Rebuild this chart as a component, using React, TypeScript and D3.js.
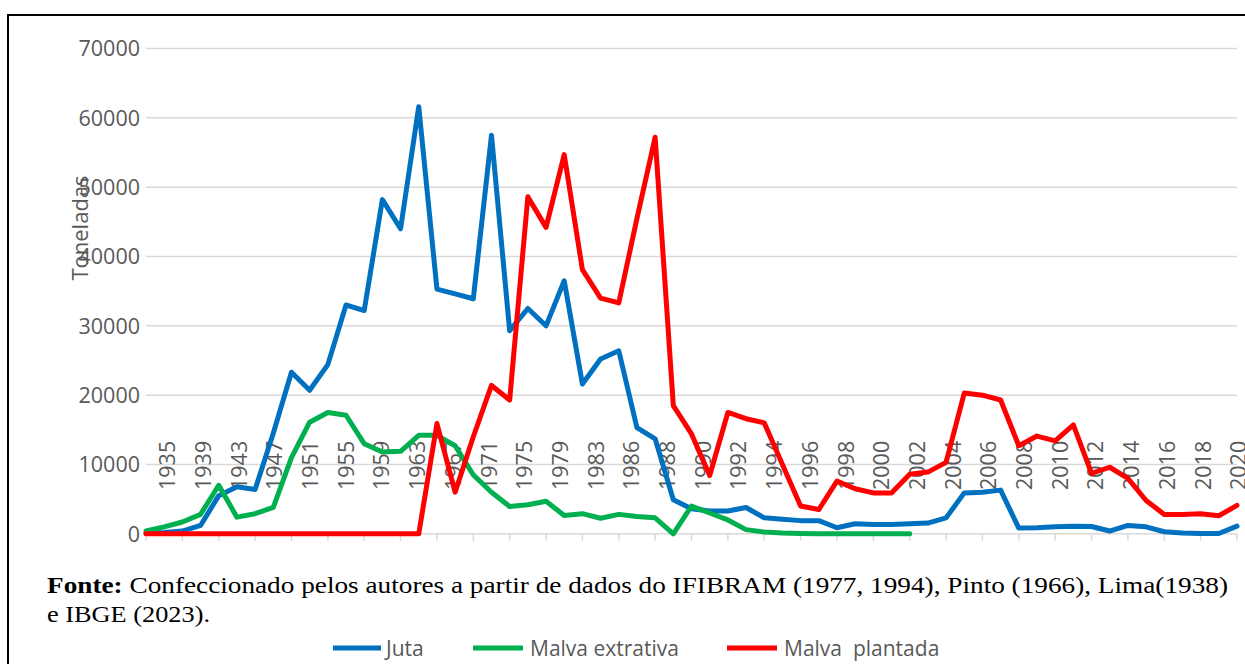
import React from 'react';
import * as d3 from 'd3';

// categories (biennial until 1983, then annual)
const years = [
  1935, 1937, 1939, 1941, 1943, 1945, 1947, 1949, 1951, 1953, 1955, 1957, 1959,
  1961, 1963, 1965, 1967, 1969, 1971, 1973, 1975, 1977, 1979, 1981, 1983, 1985,
  1986, 1987, 1988, 1989, 1990, 1991, 1992, 1993, 1994, 1995, 1996, 1997, 1998,
  1999, 2000, 2001, 2002, 2003, 2004, 2005, 2006, 2007, 2008, 2009, 2010, 2011,
  2012, 2013, 2014, 2015, 2016, 2017, 2018, 2019, 2020,
];

const tickLabels = [
  '1935', '1939', '1943', '1947', '1951', '1955', '1959', '1963', '1967', '1971',
  '1975', '1979', '1983', '1986', '1988', '1990', '1992', '1994', '1996', '1998',
  '2000', '2002', '2004', '2006', '2008', '2010', '2012', '2014', '2016', '2018', '2020',
];

const juta = [
  100, 200, 400, 1200, 5500, 6800, 6400, 14500, 23300, 20700, 24400, 33000, 32200,
  48200, 44000, 61600, 35300, 34600, 33900, 57500, 29300, 32500, 30000, 36500, 21600,
  25200, 26400, 15300, 13700, 4900, 3600, 3300, 3300, 3800, 2300, 2100, 1900, 1900,
  870, 1450, 1350, 1350, 1450, 1550, 2300, 5900, 6000, 6300, 820, 870, 1000, 1100,
  1060, 400, 1200, 1000, 300, 100, 50, 50, 1100,
];

const malvaExtrativa: (number | null)[] = [
  400, 1000, 1700, 2800, 7000, 2400, 2900, 3800, 11000, 16100, 17500, 17100, 13000,
  11800, 11900, 14200, 14200, 12700, 8500, 6000, 3950, 4200, 4700, 2650, 2900, 2250,
  2800, 2500, 2300, 0, 4000, 3000, 2000, 600, 250, 100, 50, 0, 0, 0, 0, 0, 0,
  null, null, null, null, null, null, null, null, null, null, null, null, null, null,
  null, null, null, null, null,
];

const malvaPlantada = [
  0, 0, 0, 0, 0, 0, 0, 0, 0, 0, 0, 0, 0, 0, 0, 0, 15900, 6000, 14000, 21400, 19300,
  48600, 44200, 54700, 38100, 34000, 33300, 45500, 57200, 18500, 14400, 8400, 17500,
  16600, 16000, 10000, 4000, 3500, 7600, 6500, 5900, 5900, 8600, 8900, 10300, 20300,
  20000, 19300, 12700, 14100, 13400, 15700, 8700, 9600, 8000, 4800, 2800, 2800, 2900,
  2600, 4100,
];

const yTicks = [0, 10000, 20000, 30000, 40000, 50000, 60000, 70000];

const series = [
  { name: 'Juta', values: juta, color: '#0070C0' },
  { name: 'Malva extrativa', values: malvaExtrativa, color: '#00B050' },
  { name: 'Malva  plantada', values: malvaPlantada, color: '#FF0000' },
];

const W = 1245;
const H = 664;
const FONT = "'Open Sans', sans-serif";
const SERIF = "'Liberation Serif', serif";
const GREY = '#595959';

export default function App() {
  const x = d3.scalePoint<string>().domain(years.map(String)).range([146, 1237]);
  const xLab = d3.scalePoint<string>().domain(tickLabels).range([167.5, 1238.5]);
  const y = d3.scaleLinear().domain([0, 70000]).range([533.8, 48.5]);

  const line = d3
    .line<number | null>()
    .defined((d) => d !== null)
    .x((_, i) => x(String(years[i])) as number)
    .y((d) => y(d as number));

  const legend = [
    { s: series[0], x0: 333, x1: 381, tx: 386 },
    { s: series[1], x0: 473, x1: 523, tx: 530 },
    { s: series[2], x0: 727, x1: 777, tx: 784 },
  ];

  return (
    <svg
      width={W}
      height={H}
      style={{ position: 'absolute', left: 0, top: 0, background: '#fff' }}
    >
      <rect x={8} y={15} width={W + 20} height={H + 20} fill="none" stroke="#000" strokeWidth={2} />

      {yTicks.map((t) => (
        <g key={t}>
          <line x1={146} x2={1237} y1={y(t)} y2={y(t)} stroke="#d9d9d9" strokeWidth={1.5} />
          <text x={140} y={y(t)} dy="0.36em" textAnchor="end" fontFamily={FONT} fontSize={21.5} fill={GREY}>
            {t}
          </text>
        </g>
      ))}

      {years
        .filter((_, i) => i % 2 === 0)
        .map((yr) => (
          <line
            key={yr}
            x1={x(String(yr))}
            x2={x(String(yr))}
            y1={y(0)}
            y2={y(0) + 7}
            stroke="#d9d9d9"
            strokeWidth={1.5}
          />
        ))}

      {tickLabels.map((l) => (
        <text
          key={l}
          transform={`translate(${xLab(l)},490) rotate(-90)`}
          dy="0.36em"
          fontFamily={FONT}
          fontSize={21.5}
          fill={GREY}
        >
          {l}
        </text>
      ))}

      <text
        transform="translate(88,228) rotate(-90)"
        textAnchor="middle"
        fontFamily={FONT}
        fontSize={22}
        fill={GREY}
      >
        Toneladas
      </text>

      {series.map((s) => (
        <path
          key={s.name}
          d={line(s.values) as string}
          fill="none"
          stroke={s.color}
          strokeWidth={5}
          strokeLinejoin="round"
          strokeLinecap="round"
        />
      ))}

      <text x={47} y={593} fontFamily={SERIF} fontSize={24} textLength={1181} lengthAdjust="spacingAndGlyphs">
        <tspan fontWeight="bold">Fonte:</tspan> Confeccionado pelos autores a partir de dados do IFIBRAM (1977, 1994), Pinto (1966), Lima(1938)
      </text>
      <text x={47} y={622} fontFamily={SERIF} fontSize={24} textLength={163} lengthAdjust="spacingAndGlyphs">
        e IBGE (2023).
      </text>

      {legend.map((l) => (
        <g key={l.s.name}>
          <line x1={l.x0} x2={l.x1} y1={648} y2={648} stroke={l.s.color} strokeWidth={5} />
          <text x={l.tx} y={648} dy="0.36em" fontFamily={FONT} fontSize={21} fill={GREY} style={{ whiteSpace: 'pre' }}>
            {l.s.name}
          </text>
        </g>
      ))}
    </svg>
  );
}
